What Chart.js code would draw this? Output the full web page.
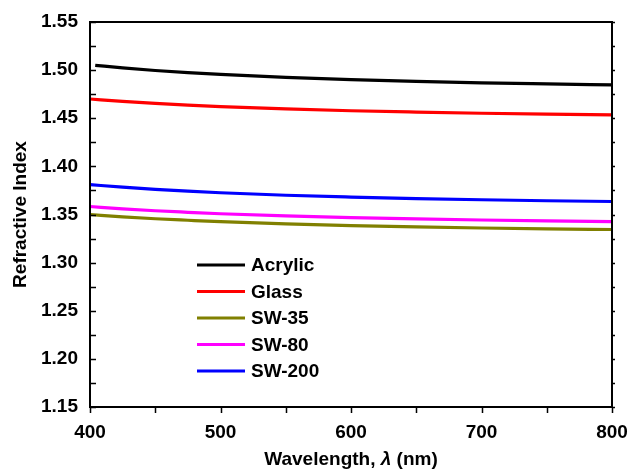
<!DOCTYPE html>
<html>
<head>
<meta charset="utf-8">
<script src="https://cdn.jsdelivr.net/npm/chart.js@4.4.1/dist/chart.umd.min.js"></script>
<style>
  html, body { margin: 0; padding: 0; background: #fff; }
  canvas { display: block; }
</style>
</head>
<body>
<canvas id="chart" width="630" height="472"></canvas>
<script>
// Wavelength grid (nm) shared by the measured curves
const wavelengthNm = [400, 425, 450, 475, 500, 550, 600, 650, 700, 750, 800];
// Acrylic curve starts slightly above 400 nm
const acrylicWavelengthNm = [404, 425, 450, 475, 500, 550, 600, 650, 700, 750, 800];

// Refractive index values
const acrylic = [1.5050, 1.5023, 1.4996, 1.4974, 1.4955, 1.4924, 1.4901, 1.4883, 1.4868, 1.4857, 1.4847];
const glass   = [1.4700, 1.4675, 1.4654, 1.4636, 1.4621, 1.4597, 1.4578, 1.4564, 1.4552, 1.4543, 1.4536];
const sw35    = [1.3500, 1.3476, 1.3456, 1.3440, 1.3425, 1.3402, 1.3385, 1.3371, 1.3360, 1.3351, 1.3344];
const sw80    = [1.3583, 1.3559, 1.3539, 1.3523, 1.3508, 1.3485, 1.3468, 1.3454, 1.3443, 1.3434, 1.3427];
const sw200   = [1.3810, 1.3784, 1.3761, 1.3742, 1.3726, 1.3700, 1.3681, 1.3665, 1.3653, 1.3643, 1.3635];

const seriesLabels = ['Acrylic', 'Glass', 'SW-35', 'SW-80', 'SW-200'];
const seriesColors = ['#000000', '#ff0000', '#808000', '#ff00ff', '#0000ff'];

// Axis ranges and tick steps
const xMin = 400, xMax = 800, xStep = 100, xMinorStep = 50;
const yMin = 1.15, yMax = 1.55, yStep = 0.05, yMinorStep = 0.025;

const FONT = 'Arial, "Liberation Sans", Helvetica, sans-serif';

function pairs(xs, ys) {
  return xs.map((x, i) => ({ x: x, y: ys[i] }));
}

const seriesX = [acrylicWavelengthNm, wavelengthNm, wavelengthNm, wavelengthNm, wavelengthNm];
const seriesY = [acrylic, glass, sw35, sw80, sw200];

const datasets = seriesLabels.map((label, i) => ({
  label: label,
  data: pairs(seriesX[i], seriesY[i]),
  borderColor: seriesColors[i],
  backgroundColor: seriesColors[i],
  borderWidth: 3.2,
  pointRadius: 0,
  fill: false,
  cubicInterpolationMode: 'monotone'
}));

// Frame, tick marks, x title with italic lambda, in-plot legend
const framePlugin = {
  id: 'frameAndTicks',
  afterDatasetsDraw(chart) {
    const ctx = chart.ctx;
    const a = chart.chartArea;
    const xs = chart.scales.x, ys = chart.scales.y;
    ctx.save();
    ctx.strokeStyle = '#000';
    ctx.lineWidth = 2;
    ctx.strokeRect(a.left, a.top, a.right - a.left, a.bottom - a.top);

    ctx.lineWidth = 1.5;
    ctx.beginPath();
    // left axis: ticks pointing into the plot; right axis: short outer ticks
    for (let v = yMin; v <= yMax + 1e-9; v += yMinorStep) {
      const y = Math.round(ys.getPixelForValue(v)) + 0.5;
      ctx.moveTo(a.left, y); ctx.lineTo(a.left + 6, y);
      ctx.moveTo(a.right, y); ctx.lineTo(a.right + 3, y);
    }
    // bottom axis: ticks pointing downward
    for (let v = xMin; v <= xMax + 1e-9; v += xMinorStep) {
      const x = Math.round(xs.getPixelForValue(v)) + 0.5;
      ctx.moveTo(x, a.bottom); ctx.lineTo(x, a.bottom + 6);
    }
    ctx.stroke();

    // x axis title with italic lambda
    const parts = [
      { t: 'Wavelength, ', f: 'bold 19px ' + FONT },
      { t: '\u03bb', f: 'italic bold 19px ' + FONT },
      { t: ' (nm)', f: 'bold 19px ' + FONT }
    ];
    let total = 0;
    parts.forEach(p => { ctx.font = p.f; p.w = ctx.measureText(p.t).width; total += p.w; });
    let tx = (a.left + a.right) / 2 - total / 2;
    ctx.fillStyle = '#000';
    ctx.textBaseline = 'middle';
    ctx.textAlign = 'left';
    parts.forEach(p => { ctx.font = p.f; ctx.fillText(p.t, tx, 460); tx += p.w; });

    // legend inside the plot
    const lx = a.left + 107, ly = a.top + 243, rowH = 26.5;
    ctx.font = 'bold 19px ' + FONT;
    chart.data.datasets.forEach((ds, i) => {
      const y = ly + i * rowH;
      ctx.strokeStyle = ds.borderColor;
      ctx.lineWidth = 3.2;
      ctx.beginPath();
      ctx.moveTo(lx, y); ctx.lineTo(lx + 48, y);
      ctx.stroke();
      ctx.fillStyle = '#000';
      ctx.fillText(ds.label, lx + 54, y + 1);
    });
    ctx.restore();
  }
};

new Chart(document.getElementById('chart'), {
  type: 'line',
  data: { datasets: datasets },
  options: {
    responsive: false,
    animation: false,
    devicePixelRatio: 1,
    layout: { padding: { top: 22, right: 18, left: 0, bottom: 0 } },
    plugins: {
      legend: { display: false },
      tooltip: { enabled: false }
    },
    scales: {
      x: {
        type: 'linear',
        min: xMin, max: xMax,
        grid: { display: false, drawTicks: false },
        border: { display: false },
        ticks: {
          stepSize: xStep,
          color: '#000',
          padding: 14,
          font: { family: FONT, size: 19, weight: 'bold' },
          maxRotation: 0
        },
        afterFit(scale) {
          scale.height = 65;
          scale.paddingLeft = 0;
          scale.paddingRight = 0;
        }
      },
      y: {
        type: 'linear',
        min: yMin, max: yMax,
        grid: { display: false, drawTicks: false },
        border: { display: false },
        ticks: {
          stepSize: yStep,
          color: '#000',
          padding: 12,
          font: { family: FONT, size: 19, weight: 'bold' },
          callback: v => Number(v).toFixed(2)
        },
        title: {
          display: true,
          text: 'Refractive Index',
          color: '#000',
          font: { family: FONT, size: 19, weight: 'bold' },
          padding: { top: 9, bottom: 0 }
        },
        afterFit(scale) {
          scale.width = 90;
          scale.paddingTop = 0;
          scale.paddingBottom = 0;
        }
      }
    }
  },
  plugins: [framePlugin]
});
</script>
</body>
</html>
